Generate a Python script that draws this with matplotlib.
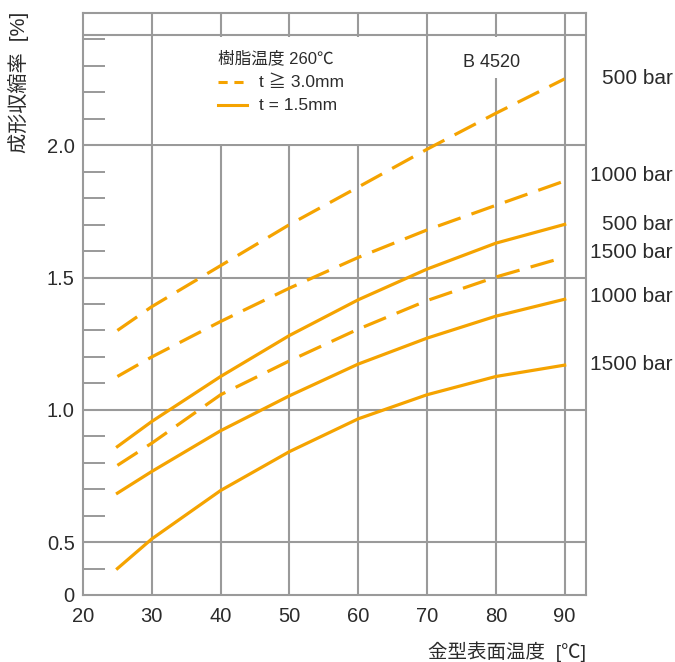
import matplotlib
matplotlib.use("Agg")
import matplotlib.pyplot as plt
import matplotlib.transforms as mtransforms
from matplotlib.lines import Line2D
from matplotlib.patches import Rectangle

plt.rcParams['font.family'] = ['Liberation Sans', 'Noto Sans CJK JP', 'DejaVu Sans']

# Mold surface temperature [deg C]
temp = [25, 30, 40, 50, 60, 70, 80, 90]

# Shrinkage [%], t >= 3.0mm (dashed)
thick_500 = [1.30, 1.39, 1.545, 1.70, 1.842, 1.985, 2.121, 2.251]
thick_1000 = [1.126, 1.20, 1.334, 1.46, 1.576, 1.68, 1.773, 1.865]
thick_1500 = [0.79, 0.874, 1.057, 1.185, 1.305, 1.413, 1.502, 1.577]

# Shrinkage [%], t = 1.5mm (solid)
thin_500 = [0.861, 0.956, 1.126, 1.281, 1.416, 1.532, 1.630, 1.701]
thin_1000 = [0.685, 0.767, 0.921, 1.053, 1.173, 1.271, 1.354, 1.418]
thin_1500 = [0.40, 0.512, 0.695, 0.842, 0.966, 1.057, 1.126, 1.169]

pressure_labels = ["500 bar", "1000 bar", "1500 bar"]

orange = "#F5A300"
grid_c = "#9a9a9a"
text_c = "#2b2b2b"

fig = plt.figure(figsize=(6.75, 6.62), dpi=100)
ax = fig.add_axes([83 / 675, 1 - 595 / 662, 503 / 675, 582 / 662])

dashed = [thick_500, thick_1000, thick_1500]
solid = [thin_500, thin_1000, thin_1500]

for ys in dashed:
    ax.plot(temp, ys, color=orange, lw=2.3, dashes=(7.5, 3.6),
            solid_capstyle='butt', dash_capstyle='butt', zorder=4)
for ys in solid:
    ax.plot(temp, ys, color=orange, lw=2.3, zorder=4)

ax.set_xlim(20, 93.1)
ax.set_ylim(0.3, 2.5)

ax.set_xticks(range(20, 91, 10))
ax.set_xticklabels([str(v) for v in range(20, 91, 10)])
ax.set_yticks([0.3, 0.5, 1.0, 1.5, 2.0])
ax.set_yticklabels(["0", "0.5", "1.0", "1.5", "2.0"])
ax.set_yticks([0.4, 0.6, 0.7, 0.8, 0.9, 1.1, 1.2, 1.3, 1.4,
               1.6, 1.7, 1.8, 1.9, 2.1, 2.2, 2.3, 2.4], minor=True)

ax.tick_params(axis='both', which='major', length=0, labelsize=14.5,
               labelcolor=text_c)
ax.tick_params(axis='x', pad=9)
ax.tick_params(axis='y', pad=6)
ax.tick_params(axis='y', which='minor', direction='in', length=16,
               width=1.2, color='#888888')

for v in range(30, 91, 10):
    ax.axvline(v, color=grid_c, lw=1.5, zorder=1)
for v in [0.5, 1.0, 1.5, 2.0, 2.417]:
    ax.axhline(v, color=grid_c, lw=1.5, zorder=1)

# blank areas behind the legend and the grade name
ax.add_patch(Rectangle((30.15, 2.006), 39.7, 0.405, facecolor='white',
                       edgecolor='none', zorder=2))
ax.add_patch(Rectangle((72, 2.256), 15, 0.155, facecolor='white',
                       edgecolor='none', zorder=2))

for s in ax.spines.values():
    s.set_color(grid_c)
    s.set_linewidth(1.5)

# legend drawn by hand
ax.text(39.6, 2.33, "樹脂温度 260℃", fontsize=12, color=text_c,
        va='center', ha='left', zorder=5)
legend_items = [((0, (3, 2.2)), "t ≧ 3.0mm", 2.239), ("-", "t = 1.5mm", 2.152)]
for ls, txt, yy in legend_items:
    ax.add_line(Line2D([39.6, 43.9], [yy, yy], color=orange, lw=2.2,
                       linestyle=ls, zorder=5))
    ax.text(45.6, yy, txt, fontsize=12.5, color=text_c, va='center',
            ha='left', zorder=5)

ax.text(75.2, 2.311, "B 4520", fontsize=13, color=text_c, va='center',
        ha='left', zorder=5)

# pressure labels on the right side
trans = mtransforms.blended_transform_factory(fig.transFigure, ax.transData)
right_labels = [
    (thick_500[-1] + 0.003, pressure_labels[0]),
    (thick_1000[-1] + 0.019, pressure_labels[1]),
    (thin_500[-1] + 0.001, pressure_labels[0]),
    (thick_1500[-1] + 0.019, pressure_labels[2]),
    (thin_1000[-1] + 0.012, pressure_labels[1]),
    (thin_1500[-1] + 0.001, pressure_labels[2]),
]
for yy, txt in right_labels:
    ax.text(0.997, yy, txt, transform=trans, ha='right', va='center',
            fontsize=15, color=text_c, clip_on=False)

fig.text(0.027, 0.982, "成形収縮率  [%]", rotation=90, ha='center', va='top',
         fontsize=14.5, color=text_c)
fig.text(586 / 675, 1 - 652 / 662, "金型表面温度  [℃]", ha='right',
         va='center', fontsize=14, color=text_c)

fig.savefig("out.png", dpi=100)
